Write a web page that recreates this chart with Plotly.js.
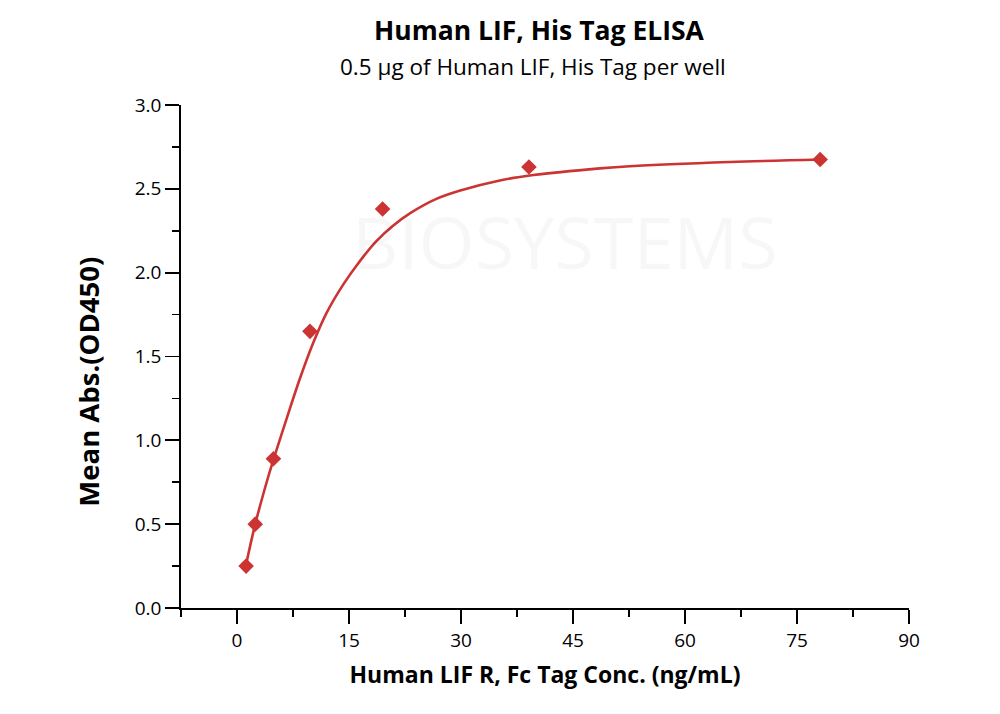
<!DOCTYPE html>
<html>
<head>
<meta charset="utf-8">
<script src="https://cdn.plot.ly/plotly-3.0.1.min.js"></script>
<style>html,body{margin:0;padding:0;background:#fff;}#chart{width:1000px;height:714px;}</style>
</head>
<body>
<div id="chart"></div>
<script>
// Measured data points
var concX = [1.22, 2.44, 4.88, 9.77, 19.5, 39.1, 78.1];
var meanAbs = [0.25, 0.50, 0.89, 1.65, 2.38, 2.63, 2.675];

// Fitted curve
var fitX = [1.22, 2.44, 3.97, 4.88, 6.65, 8.44, 10.2, 12.0, 14.24, 16.47, 18.7, 20.9, 23.2, 26.7, 29.9, 35.2, 39.7, 48.6, 52.6, 66.0, 78.1];
var fitY = [0.26, 0.50, 0.75, 0.885, 1.13, 1.37, 1.58, 1.76, 1.93, 2.07, 2.19, 2.28, 2.355, 2.44, 2.49, 2.55, 2.582, 2.622, 2.635, 2.66, 2.675];

var titleText = "Human LIF, His Tag ELISA";
var subtitleText = "0.5 μg of Human LIF, His Tag per well";
var xTitle = "Human LIF R, Fc Tag Conc. (ng/mL)";
var yTitle = "Mean Abs.(OD450)";
var watermarkText = "BIOSYSTEMS";

var FONT = "'Open Sans', 'Noto Sans', sans-serif";
var RED = "#cc3333";

var traces = [
  {x: fitX, y: fitY, mode: "lines", line: {color: RED, width: 2.6, shape: "spline", smoothing: 1}, hoverinfo: "skip", showlegend: false},
  {x: concX, y: meanAbs, mode: "markers", marker: {symbol: "diamond", size: 12, color: RED}, showlegend: false}
];

var layout = {
  width: 1000, height: 714,
  margin: {l: 181, r: 91, t: 105, b: 106},
  paper_bgcolor: "#ffffff", plot_bgcolor: "rgba(0,0,0,0)",
  font: {family: FONT, color: "#000"},
  showlegend: false,
  xaxis: {
    range: [-7.5, 90], tick0: 0, dtick: 15, tickmode: "linear",
    showgrid: false, zeroline: false,
    showline: true, linecolor: "#000", linewidth: 1.8,
    ticks: "outside", ticklen: 14, tickwidth: 1.8, tickcolor: "#000",
    minor: {tick0: 0, dtick: 7.5, ticks: "outside", ticklen: 7, tickwidth: 1.8, tickcolor: "#000", showgrid: false},
    tickfont: {family: FONT, size: 19, color: "#000"},
    title: {text: "<b>" + xTitle + "</b>", font: {family: FONT, size: 23, color: "#000"}, standoff: 15}
  },
  yaxis: {
    range: [0, 3], tick0: 0, dtick: 0.5, tickmode: "linear", tickformat: ".1f",
    showgrid: false, zeroline: false,
    showline: true, linecolor: "#000", linewidth: 1.8,
    ticks: "outside", ticklen: 14, tickwidth: 1.8, tickcolor: "#000",
    minor: {tick0: 0, dtick: 0.25, ticks: "outside", ticklen: 7, tickwidth: 1.8, tickcolor: "#000", showgrid: false},
    tickfont: {family: FONT, size: 19, color: "#000"},
    title: {text: ""}
  },
  annotations: [
    {xref: "paper", yref: "paper", x: 0.492, y: 1, yshift: 75, xanchor: "center", yanchor: "middle", showarrow: false,
     text: "<b>" + titleText + "</b>", font: {family: FONT, size: 26.5, color: "#000"}},
    {xref: "paper", yref: "paper", x: 0.483, y: 1, yshift: 39, xanchor: "center", yanchor: "middle", showarrow: false,
     text: subtitleText, font: {family: FONT, size: 22.5, color: "#000"}},
    {xref: "paper", yref: "paper", x: 0, xshift: -92, y: 0.45, xanchor: "center", yanchor: "middle", showarrow: false,
     textangle: -90, text: "<b>" + yTitle + "</b>", font: {family: FONT, size: 27.5, color: "#000"}},
    {xref: "paper", yref: "paper", x: 0.527, y: 0.73, xanchor: "center", yanchor: "middle", showarrow: false,
     text: watermarkText, font: {family: FONT, size: 72, color: "rgba(0,0,0,0.03)"}}
  ]
};

Plotly.newPlot("chart", traces, layout, {displayModeBar: false, staticPlot: true});
</script>
</body>
</html>
